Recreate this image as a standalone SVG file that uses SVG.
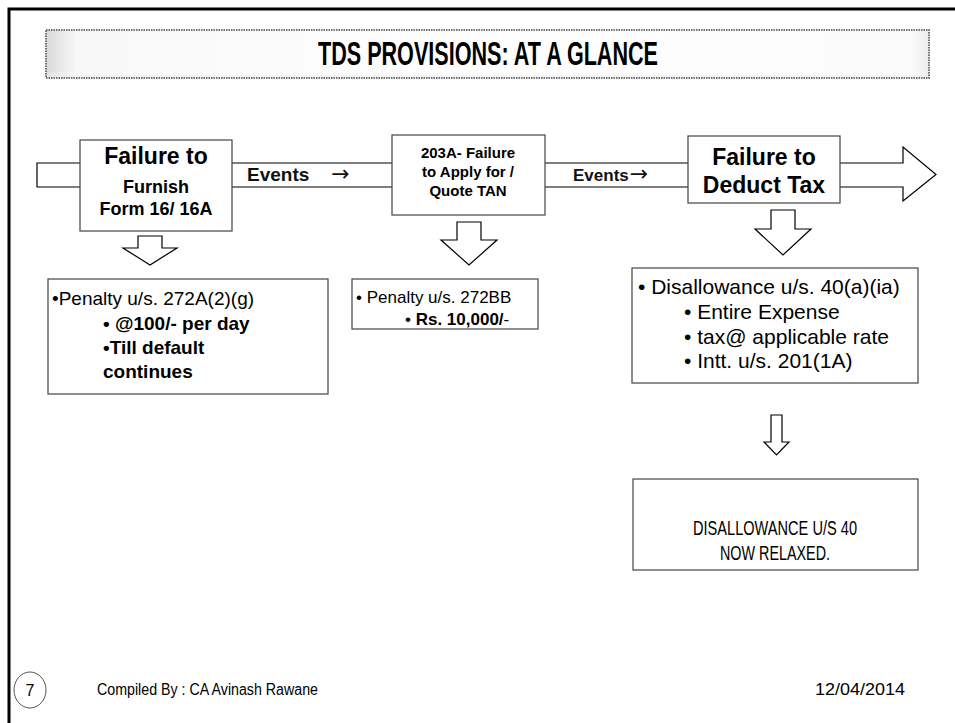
<svg xmlns="http://www.w3.org/2000/svg" width="955" height="723" viewBox="0 0 955 723">
  <defs>
    <linearGradient id="bevelL" x1="0" y1="0" x2="1" y2="0">
      <stop offset="0" stop-color="#d9d9d9"/>
      <stop offset="0.035" stop-color="#f8f8f8"/>
      <stop offset="0.5" stop-color="#ffffff"/>
      <stop offset="0.98" stop-color="#fbfbfb"/>
      <stop offset="1" stop-color="#ececec"/>
    </linearGradient>
    <linearGradient id="bevelV" x1="0" y1="0" x2="0" y2="1">
      <stop offset="0" stop-color="#ffffff" stop-opacity="0"/>
      <stop offset="0.85" stop-color="#ffffff" stop-opacity="0"/>
      <stop offset="1" stop-color="#e6e6e6" stop-opacity="0.8"/>
    </linearGradient>
  </defs>
  <style>
    .frame { stroke: #000; stroke-width: 3; fill: none; }
    .box { fill: #fff; stroke: #444; stroke-width: 1.2; }
    .blk { fill: #fff; stroke: #000; stroke-width: 1.2; stroke-linejoin: miter; }
    .t { font-family: "Liberation Sans", Arial, sans-serif; fill: #000; }
    .b { font-weight: bold; }
    .c { text-anchor: middle; }
    .ev { font-family: "Liberation Sans", Arial, sans-serif; font-weight: bold; fill: #111; }
    .arr { font-family: "DejaVu Sans", sans-serif; font-size: 22px; font-weight: normal; fill: #111; }
  </style>

  <rect width="955" height="723" fill="#fff"/>

  <!-- page frame: top and left rules -->
  <path class="frame" d="M955 9 H9 V723"/>

  <!-- title banner -->
  <g id="title">
    <rect x="46" y="30" width="883" height="48" fill="url(#bevelL)"/>
    <rect x="46" y="30" width="883" height="48" fill="url(#bevelV)" stroke="#707070" stroke-width="2" stroke-dasharray="1.5 1"/>
    <text class="t b c" x="488" y="65" font-size="34" textLength="340" lengthAdjust="spacingAndGlyphs">TDS PROVISIONS: AT A GLANCE</text>
  </g>

  <!-- connectors: main flow arrow and down arrows -->
  <g id="connectors">
    <path class="blk" d="M37 163 H903 V147 L936 174.5 L903 201 V187 H37 Z"/>
    <path class="blk" d="M138 236 H162 V248 H177 L150 265 L123 248 H138 Z"/>
    <path class="blk" d="M457 222 H481 V240 H497 L469 265 L441 240 H457 Z"/>
    <path class="blk" d="M771 210 H795 V229 H811 L783 255 L755 229 H771 Z"/>
    <path class="blk" d="M771 415 H782 V442 H789 L776.5 455 L764 442 H771 Z"/>
    <text class="ev" x="247" y="181" font-size="19">Events<tspan class="arr" dx="22">→</tspan></text>
    <text class="ev" x="573" y="181" font-size="17">Events<tspan class="arr" dx="1">→</tspan></text>
  </g>

  <!-- event nodes -->
  <g id="node-furnish">
    <rect class="box" x="80" y="140" width="152" height="91"/>
    <text class="t b c" x="156" y="164" font-size="23">Failure to</text>
    <text class="t b c" x="156" y="193" font-size="18">Furnish</text>
    <text class="t b c" x="156" y="215" font-size="18">Form 16/ 16A</text>
  </g>

  <g id="node-tan">
    <rect class="box" x="392" y="135" width="153" height="80"/>
    <text class="t b c" x="468" y="158" font-size="15">203A- Failure</text>
    <text class="t b c" x="468" y="177" font-size="15">to Apply for /</text>
    <text class="t b c" x="468" y="196" font-size="15">Quote TAN</text>
  </g>

  <g id="node-deduct">
    <rect class="box" x="688" y="136" width="152" height="67"/>
    <text class="t b c" x="764" y="165" font-size="23">Failure to</text>
    <text class="t b c" x="764" y="193" font-size="23">Deduct Tax</text>
  </g>

  <!-- consequence nodes -->
  <g id="node-penalty-272a">
    <rect class="box" x="48" y="279" width="280" height="115"/>
    <text class="t" x="52" y="305" font-size="19">•Penalty u/s. 272A(2)(g)</text>
    <text class="t b" x="103" y="330" font-size="19">• @100/- per day</text>
    <text class="t b" x="103" y="354" font-size="19">•Till default</text>
    <text class="t b" x="103" y="378" font-size="19">continues</text>
  </g>

  <g id="node-penalty-272bb">
    <rect class="box" x="352" y="279" width="186" height="50"/>
    <text class="t" x="356" y="303" font-size="17">• Penalty u/s. 272BB</text>
    <text class="t" x="405" y="325" font-size="17">• <tspan class="b">Rs. 10,000/</tspan>-</text>
  </g>

  <g id="node-disallowance">
    <rect class="box" x="632" y="268" width="286" height="115"/>
    <text class="t" x="638" y="294" font-size="21">• Disallowance u/s. 40(a)(ia)</text>
    <text class="t" x="684" y="319" font-size="21">• Entire Expense</text>
    <text class="t" x="684" y="344" font-size="21">• tax@  applicable rate</text>
    <text class="t" x="684" y="368" font-size="21">• Intt. u/s. 201(1A)</text>
  </g>

  <g id="node-relaxed">
    <rect class="box" x="633" y="479" width="285" height="91"/>
    <text class="t c" x="775" y="535" font-size="21" font-family="Lato, 'Liberation Sans', sans-serif" textLength="164" lengthAdjust="spacingAndGlyphs">DISALLOWANCE U/S 40</text>
    <text class="t c" x="775" y="560" font-size="21" font-family="Lato, 'Liberation Sans', sans-serif" textLength="110" lengthAdjust="spacingAndGlyphs">NOW RELAXED.</text>
  </g>

  <!-- footer -->
  <g id="footer">
    <ellipse cx="30" cy="690" rx="16" ry="18" fill="#fff" stroke="#555" stroke-width="1"/>
    <text class="t c" x="30" y="696" font-size="16">7</text>
    <text class="t" x="97" y="695" font-size="16" textLength="221" lengthAdjust="spacingAndGlyphs">Compiled By : CA Avinash Rawane</text>
    <text class="t" x="815" y="695" font-size="16" textLength="90" lengthAdjust="spacingAndGlyphs">12/04/2014</text>
  </g>
</svg>
